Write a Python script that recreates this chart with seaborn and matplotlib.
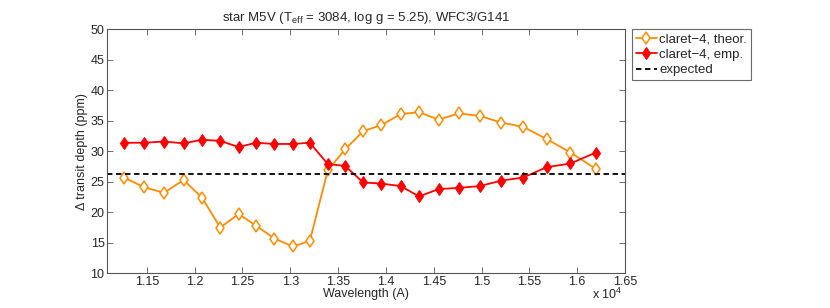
import matplotlib
matplotlib.use("Agg")
import matplotlib.pyplot as plt
import seaborn as sns
import numpy as np
import pandas as pd

# --- data (wavelength in Angstrom, depth in ppm) ---
wavelength = [11262, 11472, 11681, 11884, 12077, 12268, 12460, 12643, 12834,
              13026, 13204, 13393, 13573, 13762, 13953, 14155, 14347, 14550,
              14763, 14983, 15207, 15437, 15682, 15930, 16196]
theor = [25.7, 24.1, 23.2, 25.3, 22.4, 17.5, 19.7, 17.8, 15.7, 14.4, 15.3,
         26.9, 30.3, 33.3, 34.3, 36.1, 36.4, 35.2, 36.2, 35.8, 34.7, 34.0,
         32.0, 29.8, 27.1]
emp = [31.4, 31.4, 31.6, 31.3, 31.9, 31.7, 30.7, 31.4, 31.2, 31.2, 31.4,
       27.9, 27.6, 24.9, 24.7, 24.3, 22.6, 23.8, 24.0, 24.3, 25.2, 25.7,
       27.4, 28.0, 29.8]
expected = 26.3

df = pd.DataFrame({"wl": np.array(wavelength) / 1e4, "theor": theor, "emp": emp})

sns.set_style("ticks")
plt.rcParams["font.family"] = ["Liberation Sans", "DejaVu Sans"]
plt.rcParams["mathtext.fontset"] = "custom"
plt.rcParams["mathtext.rm"] = "Liberation Sans"
plt.rcParams["mathtext.it"] = "Liberation Sans"

orange = "#FF8C00"
red = "#FF0000"

fig = plt.figure(figsize=(8.3, 3.08), dpi=100)
ax = fig.add_axes([0.1293, 0.1127, 0.6237, 0.7922])

sns.lineplot(data=df, x="wl", y="theor", ax=ax, color=orange, lw=1.3,
             marker="d", markersize=6.5, markerfacecolor="white",
             markeredgecolor=orange, markeredgewidth=1.1,
             label="claret\u22124, theor.")
sns.lineplot(data=df, x="wl", y="emp", ax=ax, color=red, lw=1.3,
             marker="d", markersize=6.5, markerfacecolor=red,
             markeredgecolor=red, label="claret\u22124, emp.")
ax.axhline(expected, color="black", ls="--", lw=1.3, dashes=(3, 2),
           label="expected")

ax.set_xlim(1.1087, 1.65)
ax.set_ylim(10, 50)
ticks = np.arange(1.15, 1.651, 0.05).round(2)
ax.set_xticks(ticks)
ax.set_xticklabels([f"{t:g}" for t in ticks])
ax.set_yticks(np.arange(10, 51, 5))

for s in ax.spines.values():
    s.set_visible(True)
    s.set_color("#555555")
    s.set_linewidth(0.8)
ax.tick_params(direction="in", length=4, width=0.6, color="#555555",
               top=True, right=True, labelsize=9, pad=2)

ax.set_xlabel("Wavelength (A)", fontsize=9, labelpad=0)
ax.set_ylabel("\u0394 transit depth (ppm)", fontsize=9, labelpad=2)
ax.set_title(r"star M5V (T$_{\rm eff}$ = 3084, log g = 5.25), WFC3/G141",
             fontsize=9.5, pad=6)
fig.text(0.713, 0.02, r"x 10$^4$", fontsize=9, ha="left", va="bottom")

leg = ax.legend(loc="upper left", bbox_to_anchor=(0.761, 0.906),
                bbox_transform=fig.transFigure, fontsize=9.5, frameon=True,
                fancybox=False, edgecolor="#444444", handlelength=1.6,
                handletextpad=0.2, borderpad=0.3, labelspacing=0.25,
                borderaxespad=0)
leg.get_frame().set_linewidth(0.8)

fig.savefig("out.png", dpi=100)
